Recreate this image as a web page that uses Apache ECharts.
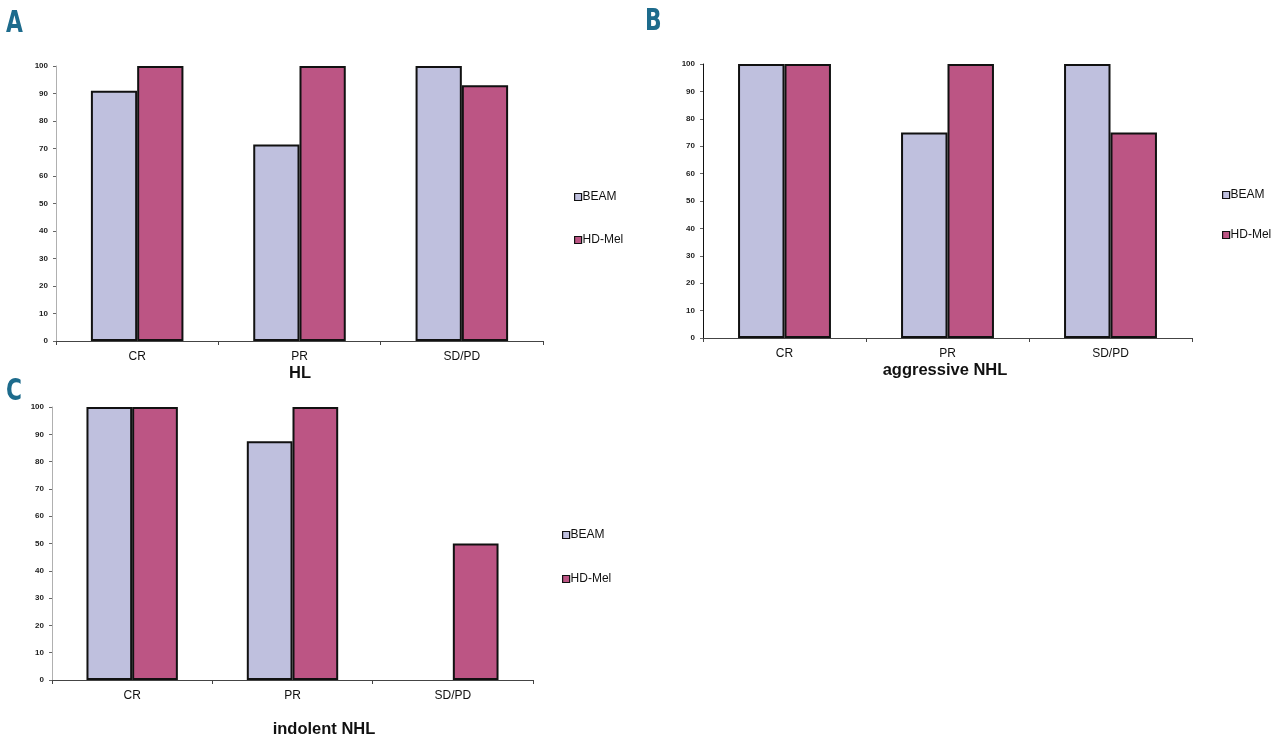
<!DOCTYPE html>
<html>
<head>
<meta charset="utf-8">
<script src="https://cdn.jsdelivr.net/npm/echarts@6/dist/echarts.min.js"></script>
<style>html,body{margin:0;padding:0;background:#fff;}#c{width:1280px;height:746px;}</style>
</head>
<body>
<div id="c"></div>
<script>
const categories = ['CR', 'PR', 'SD/PD'];
const seriesNames = ['BEAM', 'HD-Mel'];
const yTicks = [0, 10, 20, 30, 40, 50, 60, 70, 80, 90, 100];
const hlBEAM = [91, 71.5, 100];
const hlHDMel = [100, 100, 93];
const aggBEAM = [100, 75, 100];
const aggHDMel = [100, 100, 75];
const indBEAM = [100, 87.5, 0];
const indHDMel = [100, 100, 50];
const panelTitles = ['HL', 'aggressive NHL', 'indolent NHL'];
const panelLetters = ['A', 'B', 'C'];

const colors = ['#bfc0de', '#bc5584'];
const grids = [
  {left: 56, top: 66, width: 487, height: 275},
  {left: 703, top: 64, width: 489, height: 274},
  {left: 52, top: 407, width: 481, height: 273}
];
const yLineColors = ['#b0b0b0', '#111', '#b0b0b0'];
const data = [[hlBEAM, hlHDMel], [aggBEAM, aggHDMel], [indBEAM, indHDMel]];
const legendPos = [{left: 569, top: 186, gap: 31}, {left: 1217, top: 184, gap: 28}, {left: 557, top: 524, gap: 32}];
const titlePos = [{x: 300, y: 373}, {x: 945, y: 370}, {x: 324, y: 729}];
const letterPos = [{x: 6, y: 8}, {x: 645, y: 6}, {x: 6, y: 376}];

const xAxes = [], yAxes = [], series = [], legends = [];
grids.forEach((g, i) => {
  xAxes.push({
    type: 'category', gridIndex: i, data: categories,
    axisLine: {lineStyle: {color: '#444', width: 1}},
    axisTick: {show: true, alignWithLabel: false, length: 4, lineStyle: {color: '#444'}},
    axisLabel: {color: '#111', fontSize: 12, fontFamily: 'Liberation Sans', margin: 10},
    splitLine: {show: false}
  });
  yAxes.push({
    type: 'value', gridIndex: i, min: 0, max: 100, interval: 10,
    axisLine: {show: true, lineStyle: {color: yLineColors[i], width: 1}},
    axisTick: {show: true, length: 3, lineStyle: {color: '#666'}},
    axisLabel: {color: '#222', fontSize: 8, fontWeight: 'bold', fontFamily: 'Liberation Sans', margin: 8,
      formatter: v => yTicks.includes(v) ? String(v) : ''},
    splitLine: {show: false}
  });
  seriesNames.forEach((name, k) => {
    series.push({
      name: name, type: 'bar', xAxisIndex: i, yAxisIndex: i,
      data: data[i][k].map(v => v === 0 ? {value: v, itemStyle: {borderWidth: 0}} : v),
      barGap: '0%', barCategoryGap: '43%',
      itemStyle: {color: colors[k], borderColor: '#111', borderWidth: 2},
      emphasis: {disabled: true}
    });
  });
  legends.push({
    orient: 'vertical', left: legendPos[i].left, top: legendPos[i].top,
    data: seriesNames, itemWidth: 7, itemHeight: 7, itemGap: legendPos[i].gap,
    icon: 'rect',
    itemStyle: {borderColor: '#111', borderWidth: 1.2},
    textStyle: {fontSize: 12, color: '#111', fontFamily: 'Liberation Sans', padding: [0, 0, 0, -4]},
    selectedMode: false
  });
});

const graphic = [];
panelTitles.forEach((t, i) => {
  graphic.push({type: 'text', x: titlePos[i].x, y: titlePos[i].y,
    style: {text: t, fontSize: 16.5, fontWeight: 'bold', fontFamily: 'Liberation Sans', fill: '#111',
      align: 'center', verticalAlign: 'middle'}});
  graphic.push({type: 'text', x: letterPos[i].x, y: letterPos[i].y, scaleX: 0.78,
    style: {text: panelLetters[i], fontSize: 31, fontWeight: 'bold', fontFamily: 'DejaVu Sans Condensed', fill: '#1d6b8c',
      align: 'left', verticalAlign: 'top'}});
});

const chart = echarts.init(document.getElementById('c'));
chart.setOption({
  animation: false,
  grid: grids,
  xAxis: xAxes,
  yAxis: yAxes,
  legend: legends,
  series: series,
  graphic: graphic
});
</script>
</body>
</html>
